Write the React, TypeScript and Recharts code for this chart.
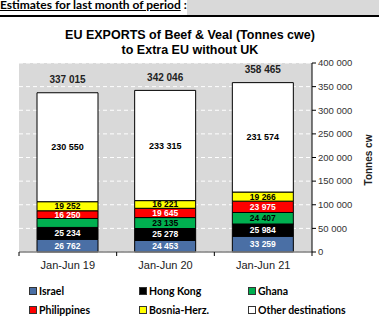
import React from "react";
import { BarChart, Bar, XAxis, YAxis, CartesianGrid, LabelList } from "recharts";

const categories = ["Jan-Jun 19", "Jan-Jun 20", "Jan-Jun 21"];
const israel = [26762, 24453, 33259];
const hongKong = [25234, 25278, 25984];
const ghana = [18967, 23135, 24407];
const ghanaLabelShown = [false, true, true];
const philippines = [16250, 19645, 23975];
const bosnia = [19252, 16221, 19266];
const other = [230550, 233315, 231574];
const totals = [337015, 342046, 358465];
const yTicks = [0, 50000, 100000, 150000, 200000, 250000, 300000, 350000, 400000];

const series = [
  { key: "israel", name: "Israel", values: israel, fill: "#4a6fa5", text: "#ffffff" },
  { key: "hongKong", name: "Hong Kong", values: hongKong, fill: "#000000", text: "#ffffff" },
  { key: "ghana", name: "Ghana", values: ghana, fill: "#00b050", text: "#000000" },
  { key: "philippines", name: "Philippines", values: philippines, fill: "#ff0000", text: "#ffffff" },
  { key: "bosnia", name: "Bosnia-Herz.", values: bosnia, fill: "#ffff00", text: "#000000" },
  { key: "other", name: "Other destinations", values: other, fill: "#ffffff", text: "#000000" },
];

const data = categories.map((c, i) => {
  const row: any = { cat: c, total: totals[i] };
  series.forEach((s) => (row[s.key] = s.values[i]));
  return row;
});

const fmt = (v: number) => String(v).replace(/\B(?=(\d{3})+(?!\d))/g, " ");

const W = 379;
const H = 317;
const M = { top: 63, right: 0, left: 19, bottom: 45 };
const Y_W = 67;
const plotW = W - M.left - M.right - Y_W;
const band = plotW / categories.length;

const ARIAL = "'Liberation Sans', Arial, sans-serif";
const CAL = "Lato, 'Open Sans', sans-serif";

const XTick = (props: any) => {
  const { x, y, payload, index } = props;
  const lx = x - band / 2;
  return (
    <g>
      <line x1={lx} y1={y} x2={lx} y2={y + 4} stroke="#000" strokeWidth={1} />
      {index === categories.length - 1 && (
        <line x1={x + band / 2} y1={y} x2={x + band / 2} y2={y + 4} stroke="#000" strokeWidth={1} />
      )}
      <text x={x} y={y + 17} textAnchor="middle" fontSize={11} fontFamily={ARIAL} fill="#222">
        {payload.value}
      </text>
    </g>
  );
};

const makeSegLabel = (s: any) => (props: any) => {
  const { x, y, width, height, value, index } = props;
  if (s.key === "ghana" && !ghanaLabelShown[index]) return null;
  const fs = s.key === "other" ? 9 : 8.5;
  return (
    <text
      x={x + width / 2}
      y={y + height / 2 + 3}
      textAnchor="middle"
      fontSize={fs}
      fontWeight="bold"
      fontFamily={ARIAL}
      fill={s.text}
    >
      {fmt(value)}
    </text>
  );
};

const TotalLabel = (props: any) => {
  const { x, y, width, index } = props;
  return (
    <text
      x={x + width / 2}
      y={y - 9.5}
      textAnchor="middle"
      fontSize={10}
      fontWeight="bold"
      fontFamily={ARIAL}
      fill="#222"
    >
      {fmt(totals[index])}
    </text>
  );
};

const legendPos = [
  { x: 29, y: 291 },
  { x: 139, y: 291 },
  { x: 248, y: 291 },
  { x: 29, y: 310 },
  { x: 139, y: 310 },
  { x: 248, y: 310 },
];

export default function App() {
  return (
    <div style={{ position: "absolute", left: 0, top: 0, width: W, height: H, background: "#fff", overflow: "hidden" }}>
      <div style={{ position: "absolute", left: 0, top: 0, width: W, height: 15, background: "#d9d9d9" }} />
      <div
        style={{
          position: "absolute",
          left: 0,
          top: -3,
          width: 187,
          height: 18,
          background: "#fff",
          fontFamily: CAL,
          fontWeight: "bold",
          fontSize: 12,
          lineHeight: "15px",
          color: "#000",
          whiteSpace: "nowrap",
        }}
      >
        <span style={{ textDecoration: "underline" }}>Estimates for last month of period</span> :
      </div>
      <div style={{ position: "absolute", left: 0, top: 15, width: W, height: 1.5, background: "#000" }} />
      <div
        style={{
          position: "absolute",
          left: 0,
          top: 28,
          width: 380,
          textAlign: "center",
          fontFamily: ARIAL,
          fontWeight: "bold",
          fontSize: 12.5,
          lineHeight: "15px",
          color: "#000",
        }}
      >
        EU EXPORTS of Beef &amp; Veal (Tonnes cwe)
        <br />
        to Extra EU without UK
      </div>
      <div style={{ position: "absolute", left: 0, top: 0 }}>
        <BarChart width={W} height={H} data={data} margin={M}>
          <CartesianGrid
            vertical={false}
            stroke="#ffffff"
            strokeDasharray="4 3"
            fill="#d9d9d9"
            fillOpacity={1}
          />
          <XAxis
            dataKey="cat"
            height={20}
            tickLine={false}
            tickSize={0}
            tickMargin={0}
            axisLine={{ stroke: "#808080", strokeWidth: 1.5 }}
            tick={<XTick />}
            interval={0}
          />
          <YAxis
            orientation="right"
            width={Y_W}
            domain={[0, 400000]}
            ticks={yTicks}
            tickFormatter={fmt}
            axisLine={{ stroke: "#000" }}
            tickLine={{ stroke: "#000" }}
            tickSize={4}
            tickMargin={2}
            tick={{ fontSize: 9.5, fill: "#333", fontFamily: ARIAL }}
            interval={0}
          />
          {series.map((s) => (
            <Bar
              key={s.key}
              dataKey={s.key}
              name={s.name}
              stackId="a"
              fill={s.fill}
              stroke="#000"
              strokeWidth={1}
              barSize={61}
              isAnimationActive={false}
            >
              <LabelList dataKey={s.key} content={makeSegLabel(s)} />
              {s.key === "other" && <LabelList dataKey="total" content={<TotalLabel />} />}
            </Bar>
          ))}
        </BarChart>
      </div>
      <div
        style={{
          position: "absolute",
          left: 368,
          top: 160,
          transform: "translate(-50%, -50%) rotate(-90deg)",
          fontFamily: ARIAL,
          fontWeight: "bold",
          fontSize: 10,
          whiteSpace: "nowrap",
          color: "#222",
        }}
      >
        Tonnes cw
      </div>
      {series.map((s, i) => (
        <div
          key={s.key}
          style={{
            position: "absolute",
            left: legendPos[i].x,
            top: legendPos[i].y - 7,
            height: 14,
            display: "flex",
            alignItems: "center",
            fontFamily: CAL,
            fontWeight: "bold",
            fontSize: 10.5,
            color: "#000",
            whiteSpace: "nowrap",
          }}
        >
          <span
            style={{
              display: "inline-block",
              width: 6,
              height: 6,
              background: s.fill,
              border: "1px solid #333",
              marginRight: 2,
            }}
          />
          {s.name}
        </div>
      ))}
    </div>
  );
}
